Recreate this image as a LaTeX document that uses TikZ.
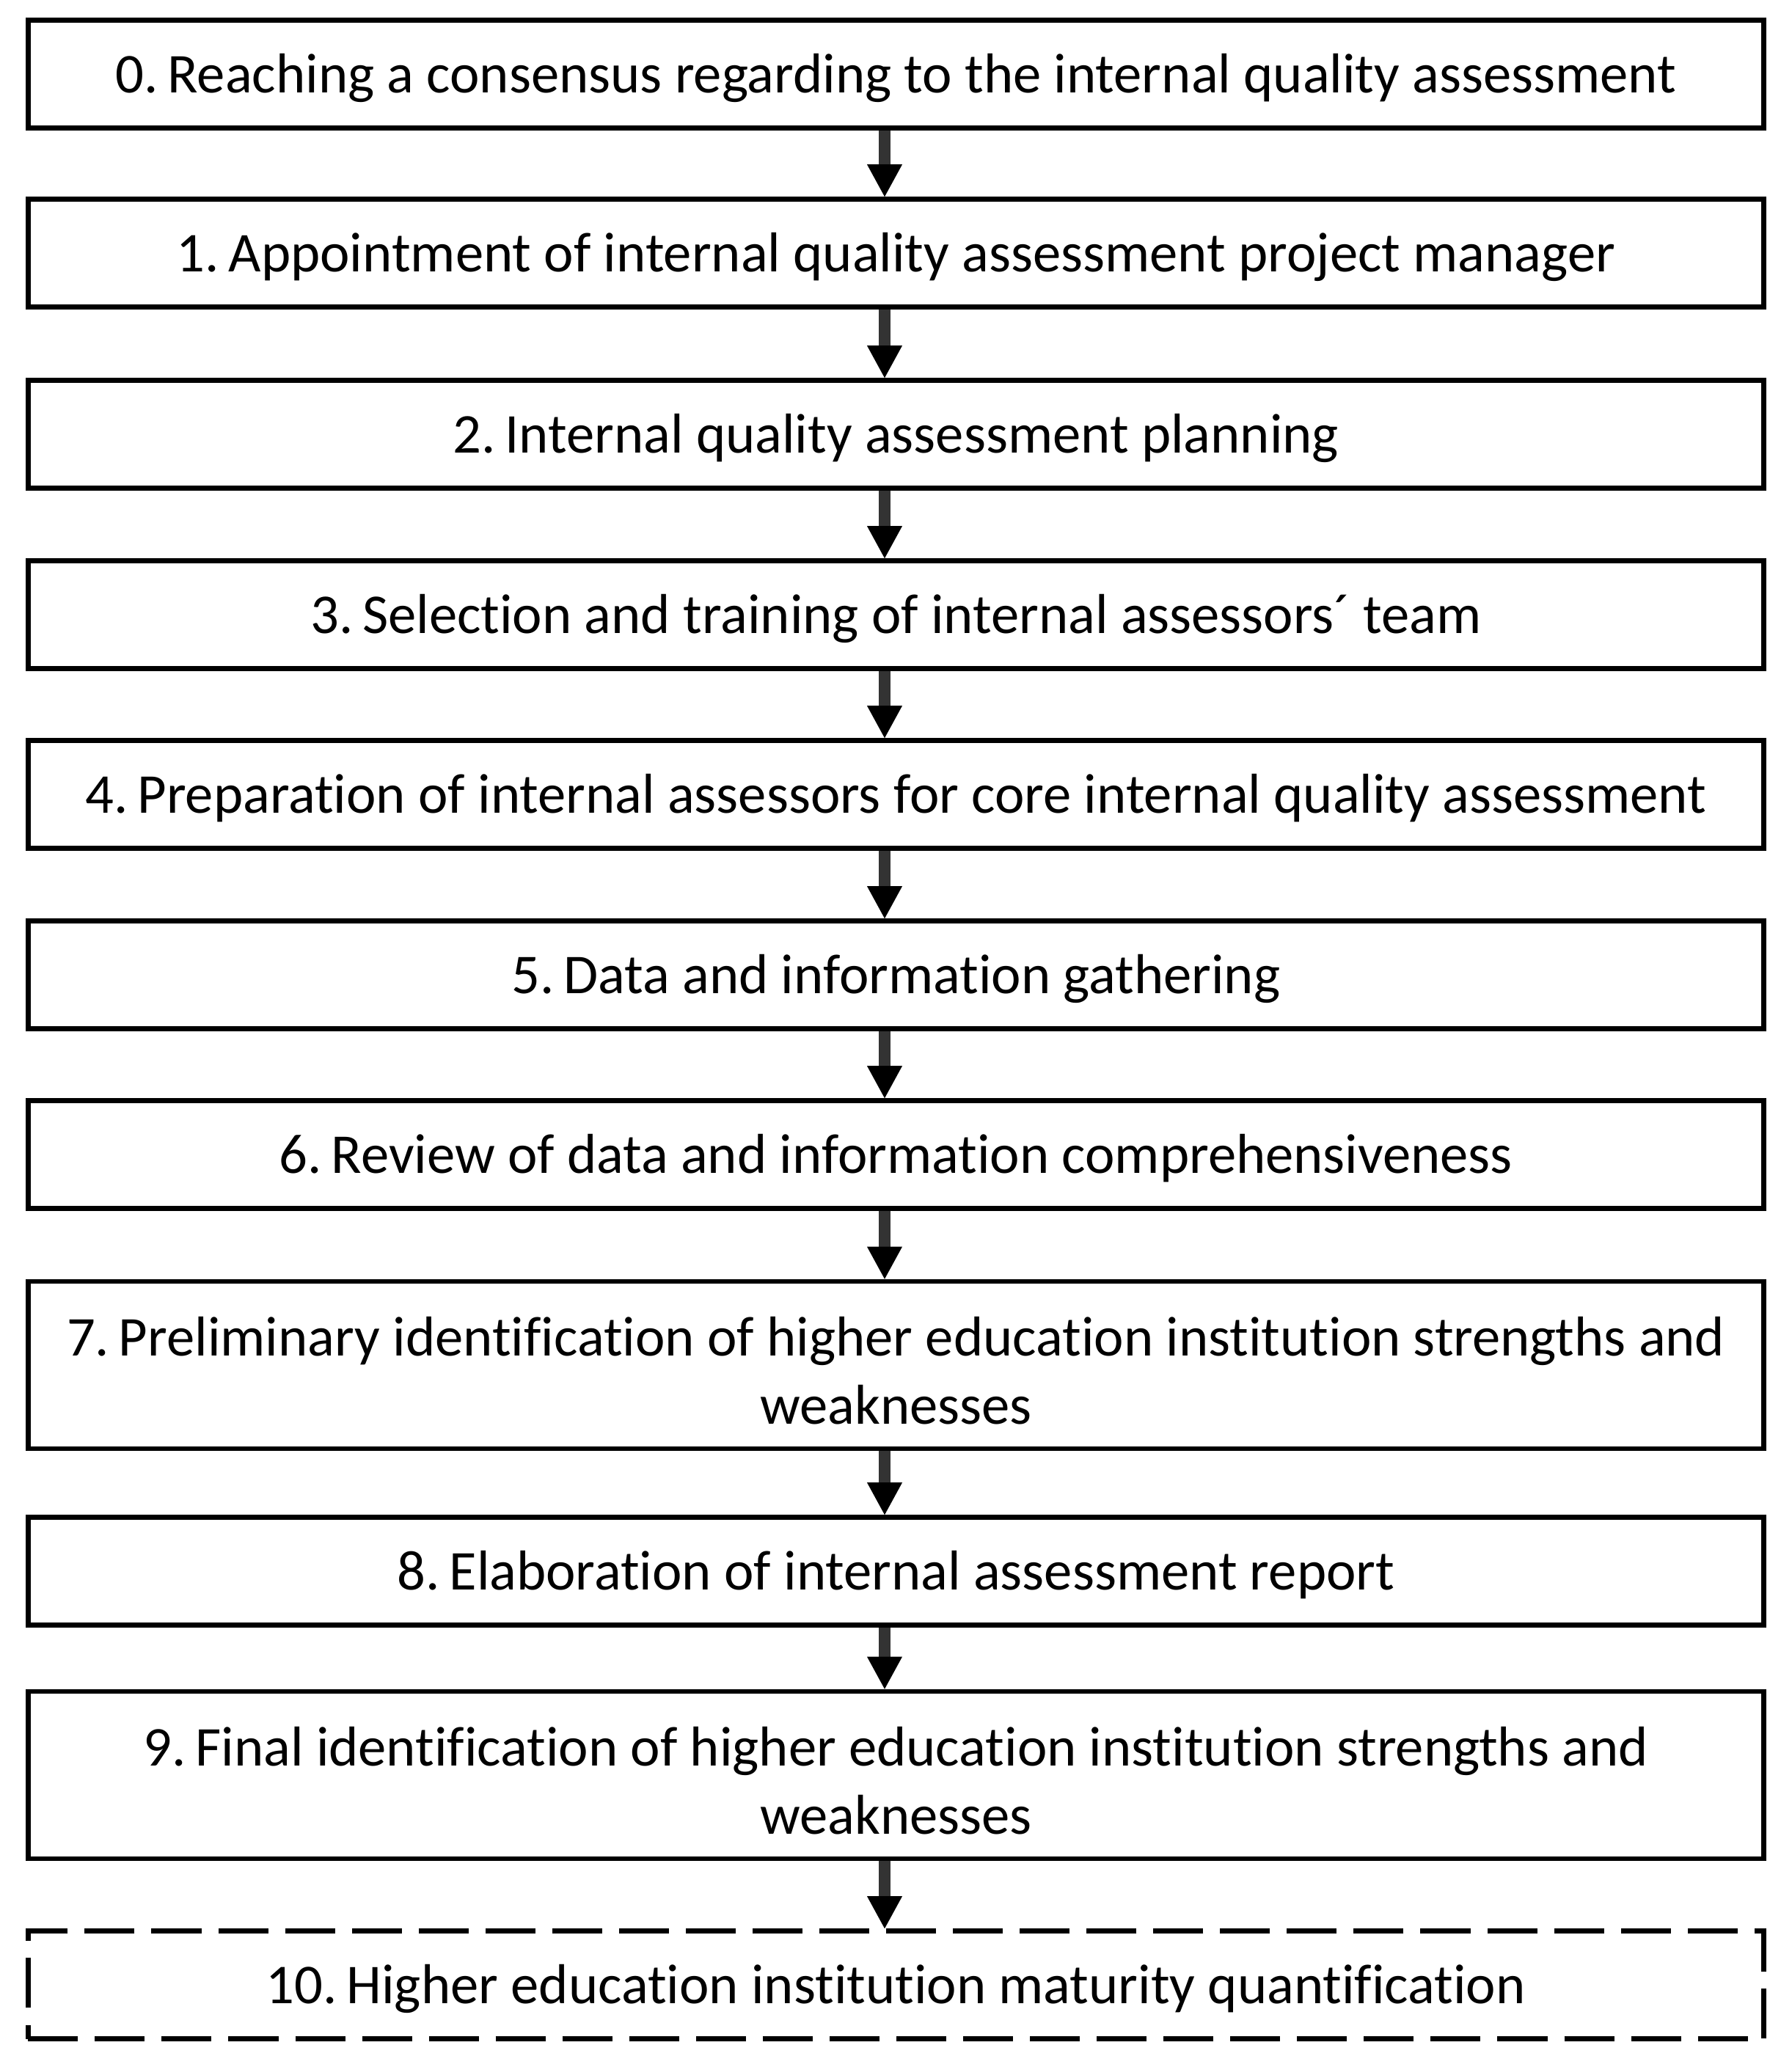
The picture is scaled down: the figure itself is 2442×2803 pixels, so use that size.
\documentclass[tikz,border=0pt]{standalone}
\usepackage{fontspec}
\setmainfont{Carlito}[Ligatures=NoCommon]
\usetikzlibrary{arrows.meta}
\begin{document}
\begin{tikzpicture}[x=0.01cm,y=-0.01cm,
  stepbox/.style={draw=black, line width=0.065cm, minimum width=23.65cm,
    minimum height=1.47cm, inner sep=0pt, align=center, fill=white,
    text height=0.5cm, text depth=0pt,
    font=\fontsize{21.8}{26.5}\selectfont},
  tallbox/.style={draw=black, line width=0.065cm, minimum width=23.65cm,
    minimum height=2.28cm, inner sep=0pt, align=center, fill=white,
    font=\fontsize{21.8}{26.5}\selectfont},
  dashbox/.style={stepbox, dash pattern=on 0.68cm off 0.23cm},
  conn/.style={draw=black!80, line width=0.16cm,
    -{Triangle[width=0.48cm,length=0.44cm,line width=0pt,color=black]}}]
\useasboundingbox (0,0) rectangle (2442,2803);
\coordinate (ax) at (1206,0);
\node[stepbox] (b0) at (1221.5,101) {0.\,Reaching a consensus regarding to the internal quality assessment};
\node[stepbox] (b1) at (1221.5,345) {1.\,Appointment of internal quality assessment project manager};
\node[stepbox] (b2) at (1221.5,592) {2.\,Internal quality assessment planning};
\node[stepbox] (b3) at (1221.5,838) {3.\,Selection and training of internal assessors´ team};
\node[stepbox] (b4) at (1221.5,1083) {4.\,Preparation of internal assessors for core internal quality assessment};
\node[stepbox] (b5) at (1221.5,1329) {5.\,Data and information gathering};
\node[stepbox] (b6) at (1221.5,1574) {6.\,Review of data and information comprehensiveness};
\node[tallbox] (b7) at (1221.5,1861) {\rule{0pt}{0.68cm}7.\,Preliminary identification of higher education institution strengths and\\weaknesses};
\node[stepbox] (b8) at (1221.5,2142) {8.\,Elaboration of internal assessment report};
\node[tallbox] (b9) at (1221.5,2420) {\rule{0pt}{0.68cm}9.\,Final identification of higher education institution strengths and\\weaknesses};
\node[dashbox] (b10) at (1221.5,2706) {10.\,Higher education institution maturity quantification};
\foreach \a/\b in {b0/b1,b1/b2,b2/b3,b3/b4,b4/b5,b5/b6,b6/b7,b7/b8,b8/b9,b9/b10}
  \draw[conn] (\a.south -| ax) -- (\b.north -| ax);
\end{tikzpicture}
\end{document}
